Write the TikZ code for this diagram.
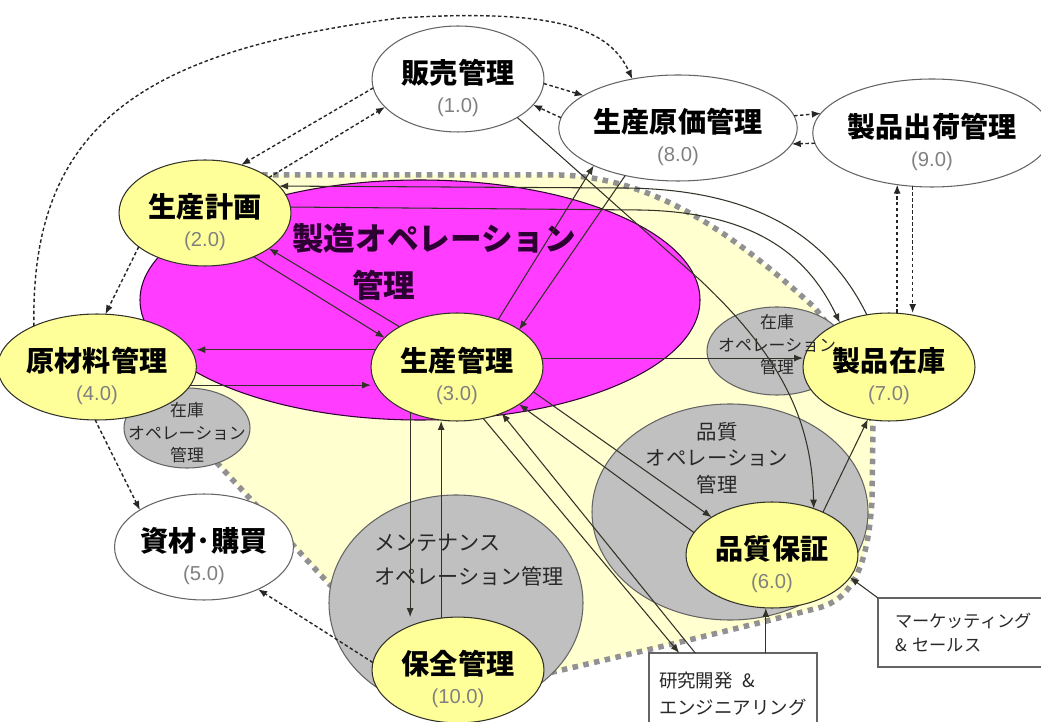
\documentclass[tikz,border=0pt]{standalone}
\usepackage{fontspec}
\setmainfont{Noto Sans CJK JP}
\newfontfamily\numfont{Liberation Sans}
\usetikzlibrary{shapes.geometric, arrows.meta}
\definecolor{nodeyel}{RGB}{255,255,153}
\definecolor{paleyel}{RGB}{255,255,208}
\definecolor{opgray}{RGB}{192,192,192}
\definecolor{mfgpink}{RGB}{255,60,255}
\definecolor{edgecol}{RGB}{50,50,40}
\definecolor{numgray}{RGB}{128,128,128}
\definecolor{dotgray}{RGB}{145,145,145}
\definecolor{mfgtext}{RGB}{45,0,50}
\definecolor{boxline}{RGB}{100,100,100}
\definecolor{textgray}{RGB}{40,40,40}
\tikzstyle{proc}=[ellipse, draw=edgecol, fill=nodeyel, line width=0.6pt, inner sep=0pt, outer sep=0pt, minimum width=3.44cm, minimum height=2.12cm, align=center, font=\bfseries\fontsize{16}{16.2}\selectfont]
\tikzstyle{extproc}=[proc, fill=white, draw=boxline]
\tikzstyle{opzone}=[fill=opgray, draw=boxline, line width=0.6pt]
\tikzstyle{oplabel}=[align=center, text=textgray, font=\fontsize{9.6}{12.8}\selectfont]
\tikzstyle{srcbox}=[rectangle, draw=boxline, line width=0.6pt, fill=white, anchor=north west, align=left, inner xsep=0.2cm, outer sep=0pt, text=textgray]
\tikzstyle{flow}=[edgecol, line width=0.6pt, -{Latex[length=0.18cm,width=0.14cm]}]
\tikzstyle{dflow}=[flow, black!85, line width=0.8pt, dash pattern=on 2pt off 1.4pt]
\newcommand{\proctext}[2]{\rule{0pt}{24pt}#1\\{\mdseries\numfont\fontsize{11.5}{11.5}\selectfont\color{numgray}(#2)}}

\begin{document}
\begin{tikzpicture}[x=0.02cm, y=-0.02cm]
\useasboundingbox (0,0) rectangle (1041,722);
% Operations area
    \filldraw[fill=paleyel, draw=dotgray, line width=0.11cm, dash pattern=on 0.11cm off 0.11cm]
        (262,175) -- (560,175) .. controls (660,178) and (740,240) .. (815,308) -- (855,360) -- (873,425)
        -- (872,500) .. controls (868,570) and (850,600) .. (818,608) .. controls (740,628) and (640,652) .. (540,675)
        -- (330,585) -- (205,450) -- (150,300) -- (200,240) -- cycle;
    \filldraw[fill=mfgpink, draw=mfgtext, line width=0.6pt] (420,300) ellipse (280 and 120);
% Sub operations
    \filldraw[opzone] (187,428) ellipse (63 and 40);
    \filldraw[opzone] (777,351) ellipse (70 and 44);
    \filldraw[opzone] (730,512) ellipse (138 and 108);
    \filldraw[opzone] (456,603) ellipse (127 and 108);
% Functions
    \node[extproc] (sales) at (458,79) {\proctext{販売管理}{1.0}};
    \node[extproc, minimum width=4cm] (cost) at (678,128) {\proctext{生産原価管理}{8.0}};
    \node[extproc, minimum width=3.92cm, minimum height=2.16cm] (ship) at (932,133) {\proctext{製品出荷管理}{9.0}};
    \node[proc] (plan) at (205,213) {\proctext{生産計画}{2.0}};
    \node[proc] (raw) at (97,367) {\proctext{原材料管理}{4.0}};
    \node[proc, minimum height=2.16cm] (prod) at (457,367) {\proctext{生産管理}{3.0}};
    \node[proc, minimum height=2.16cm] (stock) at (889,367) {\proctext{製品在庫}{7.0}};
    \node[proc] (qa) at (772,555) {\proctext{品質保証}{6.0}};
    \node[extproc] (purch) at (204,547) {\proctext{資材･購買}{5.0}};
    \node[proc, minimum height=2cm] (maint) at (458,670) {\proctext{保全管理}{10.0}};
% Labels
    \node[oplabel] (invL) at (187,433) {在庫\\オペレーション\\管理};
    \node[oplabel] (invR) at (777,345) {在庫\\オペレーション\\管理};
    \node[oplabel, font=\fontsize{11.6}{15}\selectfont] (qop) at (717,458) {品質\\オペレーション\\管理};
    \node[oplabel, align=left, anchor=west, font=\fontsize{12}{19.4}\selectfont] (mop) at (368,560) {メンテナンス\\オペレーション管理};
    \node[align=left, anchor=west, text=mfgtext, font=\bfseries\fontsize{18}{27}\selectfont] (mfg) at (286,262) {製造オペレーション\\\hspace*{1.9em}管理};
% Outside sources
    \node[srcbox, text width=2.96cm, minimum height=1.62cm, font=\fontsize{10.5}{15.4}\selectfont] (rnd) at (649,653) {研究開発\hspace{0.5em}\&\\エンジニアリング};
    \node[srcbox, text width=2.9cm, inner xsep=0.34cm, minimum height=1.38cm, font=\fontsize{9.8}{14}\selectfont] (mkt) at (878,598) {マーケッティング\\\&\ セールス};
% Dashed flows
    \draw[dflow] (raw.147) .. controls (30,120) and (150,50) .. (400,18) .. controls (560,8) and (610,30) .. (cost.133);
    \draw[dflow] (sales.186) -- (plan.53);
    \draw[dflow] (plan.29) -- (sales.201);
    \draw[dflow] (sales.357) -- (cost.161);
    \draw[dflow] (cost.175) -- (sales.341);
    \draw[dflow] (cost.6) -- (ship.170);
    \draw[dflow] (ship.185) -- (cost.352);
    \draw[dflow] (ship.236 |- stock.north) -- (ship.236);
    \draw[dflow] (ship.250) -- (ship.250 |- stock.north);
    \draw[dflow] (plan.207) -- (raw.81);
    \draw[dflow] (raw.268) -- (purch.150);
    \draw[dflow] (maint.175) -- (purch.322);
% Solid flows
    \draw[flow] (plan.318) -- (prod.158);
    \draw[flow] (prod.145) -- (plan.331);
    \draw[flow] (prod.168) -- (prod.168 -| raw.east);
    \draw[flow] (raw.349) -- (raw.349 -| prod.west);
    \draw[flow] (prod.49) -- (cost.204);
    \draw[flow] (cost.222) -- (prod.31);
    \draw[flow] (prod.6) -- (prod.6 -| stock.west);
    \draw[flow] (plan.4) -- (640,210) .. controls (760,212) and (810,260) .. (stock.138);
    \draw[flow] (stock.113) .. controls (830,240) and (760,188) .. (620,188) -- (plan.20);
    \draw[flow] (sales.327) -- (700,280) .. controls (780,355) and (812,420) .. (qa.48);
    \draw[flow] (qa.40) -- (stock.248);
    \draw[flow] (prod.342) -- (qa.148);
    \draw[flow] (qa.164) -- (prod.329);
    \draw[flow] (prod.297) -- (rnd.143.6);
    \draw[flow] (rnd.133.2) -- (prod.314);
    \draw[flow] (rnd.51.7) -- (rnd.51.7 |- qa.south);
    \draw[flow] (mkt.north west) -- (qa.344);
    \draw[flow] (prod.224) -- (prod.224 |- maint.north);
    \draw[flow] (maint.108) -- (maint.108 |- prod.south);
\end{tikzpicture}
\end{document}
